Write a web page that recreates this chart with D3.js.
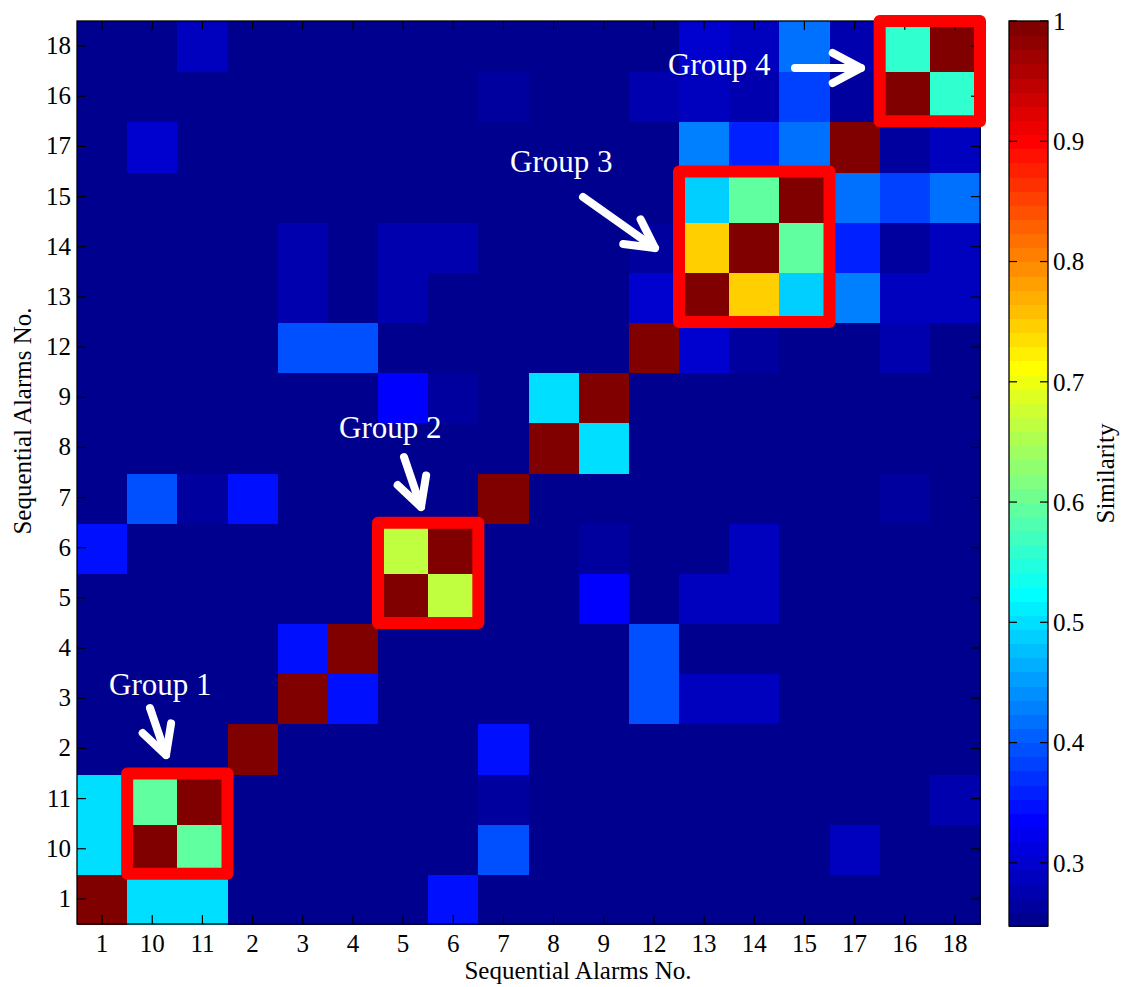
<!DOCTYPE html>
<html>
<head>
<meta charset="utf-8">
<script src="https://cdn.jsdelivr.net/npm/d3@7"></script>
<style>
  html, body { margin: 0; padding: 0; background: #fff; }
  svg { display: block; }
  text { font-family: "Liberation Serif", "Times New Roman", serif; }
</style>
</head>
<body>
<script>
// ---------------- data ----------------
const labels = ["1","10","11","2","3","4","5","6","7","8","9","12","13","14","15","17","16","18"];
// similarity rows, listed from the bottom row (alarm 1) to the top row (alarm 18); columns in `labels` order
const row_1  = [1,.50,.50,.25,.25,.25,.25,.347,.25,.25,.25,.25,.25,.25,.25,.25,.25,.25];
const row_10 = [.50,1,.594,.25,.25,.25,.25,.25,.394,.25,.25,.25,.25,.25,.25,.289,.25,.25];
const row_11 = [.50,.594,1,.25,.25,.25,.25,.25,.265,.25,.25,.25,.25,.25,.25,.25,.25,.277];
const row_2  = [.25,.25,.25,1,.25,.25,.25,.25,.347,.25,.25,.25,.25,.25,.25,.25,.25,.25];
const row_3  = [.25,.25,.25,.25,1,.347,.25,.25,.25,.25,.25,.394,.289,.289,.25,.25,.25,.25];
const row_4  = [.25,.25,.25,.25,.347,1,.25,.25,.25,.25,.25,.394,.25,.25,.25,.25,.25,.25];
const row_5  = [.25,.25,.25,.25,.25,.25,1,.665,.25,.25,.336,.25,.289,.289,.25,.25,.25,.25];
const row_6  = [.347,.25,.25,.25,.25,.25,.665,1,.25,.25,.265,.25,.25,.289,.25,.25,.25,.25];
const row_7  = [.25,.394,.265,.347,.25,.25,.25,.25,1,.25,.25,.25,.25,.25,.25,.25,.265,.25];
const row_8  = [.25,.25,.25,.25,.25,.25,.25,.25,.25,1,.50,.25,.25,.25,.25,.25,.25,.25];
const row_9  = [.25,.25,.25,.25,.25,.25,.336,.265,.25,.50,1,.25,.25,.25,.25,.25,.25,.25];
const row_12 = [.25,.25,.25,.25,.394,.394,.25,.25,.25,.25,.25,1,.30,.265,.25,.25,.277,.25];
const row_13 = [.25,.25,.25,.25,.277,.25,.277,.25,.25,.25,.25,.30,1,.747,.489,.43,.289,.289];
const row_14 = [.25,.25,.25,.25,.277,.25,.277,.277,.25,.25,.25,.265,.747,1,.594,.359,.265,.289];
const row_15 = [.25,.25,.25,.25,.25,.25,.25,.25,.25,.25,.25,.25,.489,.594,1,.418,.383,.418];
const row_17 = [.25,.30,.25,.25,.25,.25,.25,.25,.25,.25,.25,.25,.43,.359,.418,1,.265,.289];
const row_16 = [.25,.25,.25,.25,.25,.25,.25,.25,.265,.25,.25,.277,.289,.277,.383,.265,1,.559];
const row_18 = [.25,.25,.289,.25,.25,.25,.25,.25,.25,.25,.25,.25,.30,.289,.418,.277,.559,1];
const rows = [row_1,row_10,row_11,row_2,row_3,row_4,row_5,row_6,row_7,row_8,row_9,
              row_12,row_13,row_14,row_15,row_17,row_16,row_18];

const colorMin = 0.2475, colorMax = 1;
const colorTicks = [0.3,0.4,0.5,0.6,0.7,0.8,0.9,1];
const colorTickLabels = ["0.3","0.4","0.5","0.6","0.7","0.8","0.9","1"];

const groupNames = ["Group 1","Group 2","Group 3","Group 4"];
const groupMembers = [["10","11"],["5","6"],["13","14","15"],["16","18"]];

// ---------------- layout ----------------
const W = 1123, H = 987;
const X0 = 77, X1 = 980, Y0 = 21, Y1 = 924;
const CB = {x0: 1009, x1: 1048, y0: 21, y1: 926};

// MATLAB jet(64)
function jet(k) {
  const r = k < 25 ? 0 : k <= 40 ? (k-24)/16 : k <= 56 ? 1 : (16-(k-56))/16;
  const g = k < 9 ? 0 : k <= 24 ? (k-8)/16 : k <= 40 ? 1 : k <= 55 ? (16-(k-40))/16 : 0;
  const b = k <= 8 ? (k+8)/16 : k <= 24 ? 1 : k <= 39 ? (16-(k-24))/16 : 0;
  return d3.rgb(Math.round(r*255), Math.round(g*255), Math.round(b*255)).formatHex();
}
const jet64 = d3.range(1,65).map(jet);
const color = d3.scaleQuantize().domain([colorMin, colorMax]).range(jet64);

const svg = d3.select("body").append("svg").attr("width", W).attr("height", H);
svg.append("rect").attr("width", W).attr("height", H).attr("fill", "#fff");

const x = d3.scaleBand().domain(labels).range([X0, X1]);
const y = d3.scaleBand().domain(labels).range([Y1, Y0]);

const cells = [];
rows.forEach((r, i) => r.forEach((v, j) => cells.push({row: labels[i], col: labels[j], v})));

svg.append("g").attr("shape-rendering", "crispEdges")
  .selectAll("rect").data(cells).join("rect")
  .attr("x", d => x(d.col)).attr("y", d => y(d.row))
  .attr("width", x.bandwidth() + 1).attr("height", y.bandwidth() + 1)
  .attr("fill", d => color(d.v));

// axes
const fs = 25;
const gx = svg.append("g").attr("transform", `translate(0,${Y1})`)
  .call(d3.axisBottom(x).tickSizeInner(-9).tickSizeOuter(0).tickPadding(10));
const gy = svg.append("g").attr("transform", `translate(${X0},0)`)
  .call(d3.axisLeft(y).tickSizeInner(-9).tickSizeOuter(0).tickPadding(6));
const gt = svg.append("g").attr("transform", `translate(0,${Y0})`)
  .call(d3.axisTop(x).tickSizeInner(-9).tickSizeOuter(0).tickFormat(""));
const gr = svg.append("g").attr("transform", `translate(${X1},0)`)
  .call(d3.axisRight(y).tickSizeInner(-9).tickSizeOuter(0).tickFormat(""));
[gx, gy, gt, gr].forEach(g => {
  g.select(".domain").remove();
  g.selectAll("line").attr("stroke", "#000").attr("stroke-width", 1.2);
  g.selectAll("text").attr("font-size", fs).attr("fill", "#000")
    .attr("font-family", '"Liberation Serif", "Times New Roman", serif');
});
svg.append("rect").attr("x", X0).attr("y", Y0).attr("width", X1 - X0).attr("height", Y1 - Y0)
  .attr("fill", "none").attr("stroke", "#000").attr("stroke-width", 1.3);

svg.append("text").attr("x", 578).attr("y", 979).attr("text-anchor", "middle")
  .attr("font-size", fs).text("Sequential Alarms No.");
svg.append("text").attr("transform", "translate(31,421) rotate(-90)").attr("text-anchor", "middle")
  .attr("font-size", fs).text("Sequential Alarms No.");

// group boxes
groupMembers.forEach(m => {
  const xa = x(m[0]), xb = x(m[m.length-1]) + x.bandwidth();
  const yb = y(m[0]) + y.bandwidth(), ya = y(m[m.length-1]);
  svg.append("rect").attr("x", xa).attr("y", ya).attr("width", xb - xa).attr("height", yb - ya)
    .attr("fill", "none").attr("stroke", "#ff0000").attr("stroke-width", 12)
    .attr("stroke-linejoin", "round");
});

// annotations (text + arrows), pixel layout
const annot = [
  {tx: 109, ty: 695, a: [150, 708], b: [166, 755]},
  {tx: 339, ty: 438, a: [404, 457], b: [421, 507]},
  {tx: 510, ty: 172, a: [583, 197], b: [655, 248]},
  {tx: 668, ty: 75,  a: [795, 68],  b: [861, 68]}
];
annot.forEach((an, i) => {
  svg.append("text").attr("x", an.tx).attr("y", an.ty).attr("fill", "#fff")
    .attr("font-size", 31).text(groupNames[i]);
  const [ax, ay] = an.a, [bx, by] = an.b;
  const ang = Math.atan2(by - ay, bx - ax), L = 32, th = 28 * Math.PI / 180;
  const p1 = [bx - L*Math.cos(ang - th), by - L*Math.sin(ang - th)];
  const p2 = [bx - L*Math.cos(ang + th), by - L*Math.sin(ang + th)];
  const g = svg.append("g").attr("stroke", "#fff").attr("stroke-width", 8)
    .attr("fill", "none").attr("stroke-linecap", "round").attr("stroke-linejoin", "round");
  g.append("path").attr("d", d3.line()([an.a, an.b]));
  g.append("path").attr("d", d3.line()([p1, an.b, p2]));
});

// colorbar
const cy = d3.scaleLinear().domain([colorMin, colorMax]).range([CB.y1, CB.y0]);
const step = (colorMax - colorMin) / 64;
svg.append("g").attr("shape-rendering", "crispEdges")
  .selectAll("rect").data(jet64).join("rect")
  .attr("x", CB.x0).attr("width", CB.x1 - CB.x0)
  .attr("y", (d, i) => cy(colorMin + (i+1)*step))
  .attr("height", (d, i) => cy(colorMin + i*step) - cy(colorMin + (i+1)*step) + 1)
  .attr("fill", d => d);
const cbt = svg.append("g");
colorTicks.forEach((t, i) => {
  const yy = cy(t);
  cbt.append("line").attr("x1", CB.x0).attr("x2", CB.x0 + 8).attr("y1", yy).attr("y2", yy)
    .attr("stroke", "#000").attr("stroke-width", 1.2);
  cbt.append("line").attr("x1", CB.x1 - 8).attr("x2", CB.x1).attr("y1", yy).attr("y2", yy)
    .attr("stroke", "#000").attr("stroke-width", 1.2);
  cbt.append("text").attr("x", CB.x1 + 5).attr("y", yy).attr("dy", "0.35em")
    .attr("font-size", fs).text(colorTickLabels[i]);
});
svg.append("rect").attr("x", CB.x0).attr("y", CB.y0).attr("width", CB.x1 - CB.x0)
  .attr("height", CB.y1 - CB.y0).attr("fill", "none").attr("stroke", "#000").attr("stroke-width", 1.3);
svg.append("text").attr("transform", `translate(1114,${(CB.y0+CB.y1)/2}) rotate(-90)`)
  .attr("text-anchor", "middle").attr("font-size", fs).text("Similarity");
</script>
</body>
</html>
